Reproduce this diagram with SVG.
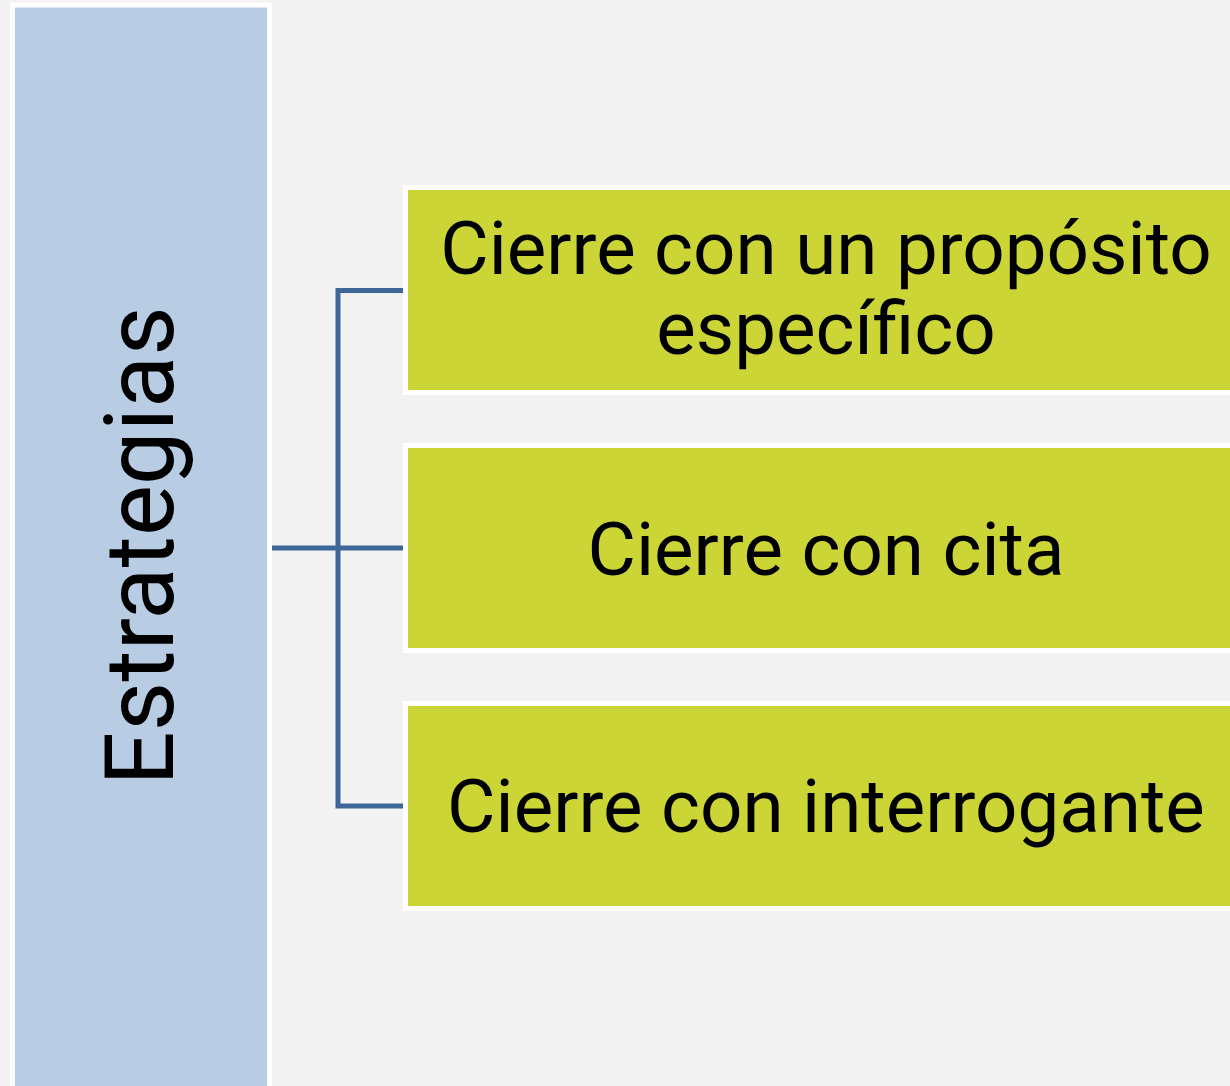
<svg xmlns="http://www.w3.org/2000/svg" width="1230" height="1086" viewBox="0 0 1230 1086">
<style>
.bg{fill:#f2f2f2}
.side{fill:#b8cce4;stroke:#ffffff;stroke-width:5}
.item{fill:#ccd536;stroke:#ffffff;stroke-width:5}
.lbl{font-family:Roboto,"Liberation Sans",sans-serif;fill:#000000;text-anchor:middle}
.conn{fill:none;stroke:#3e6699;stroke-width:5}
</style>
<rect class="bg" x="0" y="0" width="1230" height="1086"/>
<g id="connectors">
<path class="conn" d="M272,548 H404"/>
<path class="conn" d="M404,290.5 H338 V806 H404"/>
</g>
<g id="node-estrategias">
<rect class="side" x="12.5" y="5" width="257" height="1100"/>
<text class="lbl" font-size="96" transform="translate(173,546) rotate(-90)">Estrategias</text>
</g>
<g id="node-proposito">
<rect class="item" x="405.5" y="187.5" width="840" height="205"/>
<text class="lbl" font-size="74.5" x="826" y="274">Cierre con un propósito</text>
<text class="lbl" font-size="74.5" x="826" y="354">específico</text>
</g>
<g id="node-cita">
<rect class="item" x="405.5" y="445.5" width="840" height="205"/>
<text class="lbl" font-size="74.5" x="826" y="575">Cierre con cita</text>
</g>
<g id="node-interrogante">
<rect class="item" x="405.5" y="703.5" width="840" height="205"/>
<text class="lbl" font-size="74.5" x="826" y="832">Cierre con interrogante</text>
</g>
</svg>
